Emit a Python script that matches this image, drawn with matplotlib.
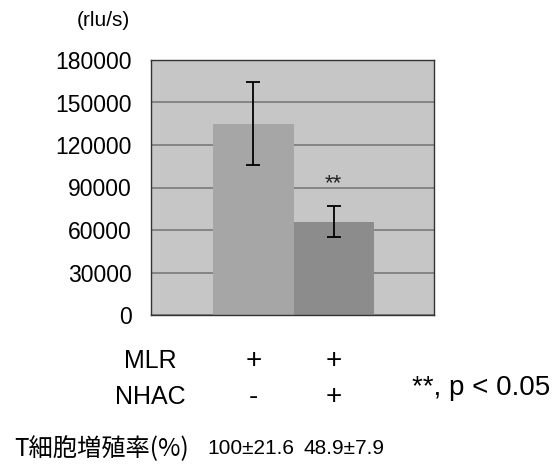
import matplotlib
matplotlib.use("Agg")
import matplotlib.pyplot as plt
from matplotlib.transforms import blended_transform_factory

# данные
means = [135000, 66000]
errs = [29200, 10800]
bar_colors = ["#a6a6a6", "#8c8c8c"]
mlr = ["+", "+"]
nhac = ["-", "+"]
rates = ["100±21.6", "48.9±7.9"]
yticks = [0, 30000, 60000, 90000, 120000, 150000, 180000]

W, H = 555, 466
plt.rcParams["font.family"] = ["Liberation Sans", "DejaVu Sans"]

fig = plt.figure(figsize=(W / 100, H / 100), dpi=100)
fig.patch.set_facecolor("white")

# область графика в пикселях: x 151..434, y 60..315
ax = fig.add_axes([151 / W, 1 - 315 / H, (434 - 151) / W, (315 - 60) / H])
ax.set_facecolor("#c6c6c6")

xs = [0, 1]
ax.bar(xs, means, width=1.0, color=bar_colors, zorder=2)
ax.errorbar(xs, means, yerr=errs, fmt="none", ecolor="black",
            elinewidth=1.3, capsize=4.8, capthick=1.3, zorder=3)
ax.text(1, 93000, "**", ha="center", va="center", fontsize=16, color="#222222", zorder=4)

ax.set_xlim(-1.275, 2.25)
ax.set_ylim(0, 180000)
ax.set_yticks(yticks)
ax.set_yticklabels([str(v) for v in yticks], fontsize=16.5)
ax.tick_params(axis="y", length=0, pad=14)
ax.set_xticks([])
ax.yaxis.grid(True, color="#858585", linewidth=1.4, zorder=1)
ax.set_axisbelow(True)
for s in ax.spines.values():
    s.set_color("#333333")
    s.set_linewidth(1.0)

# подписи снизу
fig.text(130 / W, 1 - 20 / H, "(rlu/s)", ha="right", va="center", fontsize=15)

tr = blended_transform_factory(ax.transData, fig.transFigure)
fig.text(150 / W, 1 - 361 / H, "MLR", ha="center", va="center", fontsize=18)
fig.text(150 / W, 1 - 397 / H, "NHAC", ha="center", va="center", fontsize=18)
for x, a, b in zip(xs, mlr, nhac):
    ax.text(x, 1 - 361 / H, a, transform=tr, ha="center", va="center", fontsize=20)
    ax.text(x, 1 - 397 / H, b, transform=tr, ha="center", va="center", fontsize=20)

fig.text(412 / W, 1 - 395 / H, "**, p < 0.05", ha="left", va="baseline", fontsize=20)

fig.text(14 / W, 1 - 449 / H, "T細胞増殖率(%)", ha="left", va="center", fontsize=17.5,
         family=["Noto Sans CJK JP", "DejaVu Sans"])
fig.text(207 / W, 1 - 449 / H, rates[0], ha="left", va="center", fontsize=15)
fig.text(303 / W, 1 - 449 / H, rates[1], ha="left", va="center", fontsize=15)

fig.savefig("out.png", dpi=100)
